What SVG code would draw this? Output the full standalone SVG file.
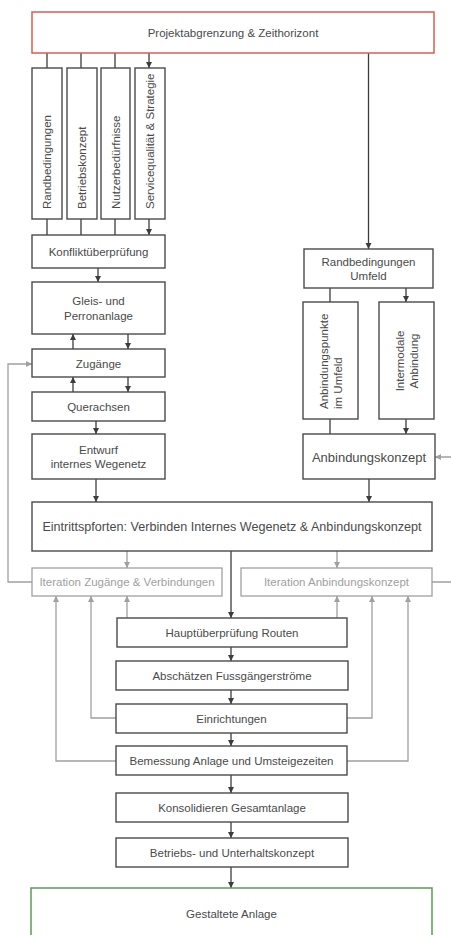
<svg xmlns="http://www.w3.org/2000/svg" width="451" height="935" viewBox="0 0 451 935">
<style>
.b{fill:#fff;stroke:#4a4a4a;stroke-width:1.4}
.g{fill:#fff;stroke:#a0a0a0;stroke-width:1.3}
.t{font-family:"Liberation Sans",Arial,sans-serif;font-size:11.5px;fill:#4a4a4a;text-anchor:middle;dominant-baseline:central}
.tg{fill:#a0a0a0}
.c{fill:none;stroke:#3c3c3c;stroke-width:1.3;marker-end:url(#ad)}
.cg{fill:none;stroke:#a0a0a0;stroke-width:1.3;marker-end:url(#ag)}
.cgn{fill:none;stroke:#a0a0a0;stroke-width:1.3}
</style>
<defs>
<marker id="ad" markerUnits="userSpaceOnUse" markerWidth="7" markerHeight="7" refX="6" refY="3" orient="auto"><path d="M0,0 L6,3 L0,6 z" fill="#3c3c3c"/></marker>
<marker id="ag" markerUnits="userSpaceOnUse" markerWidth="7" markerHeight="7" refX="6" refY="3" orient="auto"><path d="M0,0 L6,3 L0,6 z" fill="#a0a0a0"/></marker>
</defs>
<rect width="451" height="935" fill="#fff"/>

<g id="connectors">
<path class="c" d="M47 53V68M81 53V68M115 53V68M149 53V68"/>
<path class="c" d="M368.5 53V249"/>
<path class="c" d="M47 219V235M81 219V235M115 219V235M149 219V235"/>
<path class="c" d="M98 268V282"/>
<path class="c" d="M128 334V349"/>
<path class="c" d="M73 349V334"/>
<path class="c" d="M128 377V392"/>
<path class="c" d="M73 392V377"/>
<path class="c" d="M96 421V434"/>
<path class="c" d="M96 479V502"/>
<path class="c" d="M330 288V302M406 288V302"/>
<path class="c" d="M330 419V434M406 419V434"/>
<path class="c" d="M369 479V502"/>
<path class="c" d="M231 551V618"/>
<path class="c" d="M231 647V661"/>
<path class="c" d="M231 690V704"/>
<path class="c" d="M231 733V746"/>
<path class="c" d="M231 775V793"/>
<path class="c" d="M231 822V838"/>
<path class="c" d="M231 867V888"/>
<path class="cg" d="M127 551V568"/>
<path class="cg" d="M337 551V568"/>
<path class="cg" d="M127 618V596"/>
<path class="cg" d="M337 618V596"/>
<path class="cg" d="M116 718H91V596"/>
<path class="cg" d="M347 718H372V596"/>
<path class="cg" d="M116 761H56V596"/>
<path class="cg" d="M347 761H408V596"/>
<path class="cg" d="M32 582H8V364H32"/>
<path class="cg" d="M432 582H456V457H435"/>
</g>

<g id="n-projekt"><rect x="32" y="12" width="402" height="41" fill="#fff" stroke="#d6604e" stroke-width="1.5"/><text class="t" x="233" y="33">Projektabgrenzung &amp; Zeithorizont</text></g>

<g id="n-rand"><rect class="b" x="32" y="68" width="30" height="151"/><text class="t" style="text-anchor:start" transform="translate(47,209) rotate(-90)">Randbedingungen</text></g>
<g id="n-betrieb"><rect class="b" x="67" y="68" width="30" height="151"/><text class="t" style="text-anchor:start" transform="translate(82,209) rotate(-90)">Betriebskonzept</text></g>
<g id="n-nutzer"><rect class="b" x="101" y="68" width="29" height="151"/><text class="t" style="text-anchor:start" transform="translate(115.5,209) rotate(-90)">Nutzerbedürfnisse</text></g>
<g id="n-service"><rect class="b" x="135" y="68" width="30" height="151"/><text class="t" style="text-anchor:start" transform="translate(150,209) rotate(-90)">Servicequalität &amp; Strategie</text></g>

<g id="n-konflikt"><rect class="b" x="32" y="235" width="133" height="33"/><text class="t" x="98.5" y="252">Konfliktüberprüfung</text></g>
<g id="n-gleis"><rect class="b" x="32" y="282" width="133" height="52"/><text class="t" x="98.5" y="301">Gleis- und</text><text class="t" x="98.5" y="316">Perronanlage</text></g>
<g id="n-zugaenge"><rect class="b" x="32" y="349" width="133" height="28"/><text class="t" x="98.5" y="364">Zugänge</text></g>
<g id="n-querachsen"><rect class="b" x="32" y="392" width="133" height="29"/><text class="t" x="98.5" y="406.5">Querachsen</text></g>
<g id="n-entwurf"><rect class="b" x="32" y="434" width="133" height="45"/><text class="t" x="98.5" y="450">Entwurf</text><text class="t" x="98.5" y="464">internes Wegenetz</text></g>

<g id="n-randumfeld"><rect class="b" x="304" y="249" width="129" height="39"/><text class="t" x="368.5" y="262">Randbedingungen</text><text class="t" x="368.5" y="276">Umfeld</text></g>
<g id="n-anbpunkte"><rect class="b" x="303" y="302" width="55" height="117"/><text class="t" style="text-anchor:start" transform="translate(323.5,409) rotate(-90)">Anbindungspunkte</text><text class="t" style="text-anchor:start" transform="translate(337.5,409) rotate(-90)">im Umfeld</text></g>
<g id="n-intermodal"><rect class="b" x="379" y="302" width="55" height="117"/><text class="t" transform="translate(399.5,361) rotate(-90)">Intermodale</text><text class="t" transform="translate(413.5,361) rotate(-90)">Anbindung</text></g>
<g id="n-anbkonzept"><rect class="b" x="303" y="434" width="132" height="45"/><text class="t" x="369" y="457" style="font-size:13px">Anbindungskonzept</text></g>

<g id="n-eintritt"><rect class="b" x="32" y="502" width="400" height="49"/><text class="t" x="232" y="527" style="font-size:12.6px">Eintrittspforten: Verbinden Internes Wegenetz &amp; Anbindungskonzept</text></g>

<g id="n-iterz"><rect class="g" x="32" y="568" width="190" height="28"/><text class="t tg" x="127" y="582">Iteration Zugänge &amp; Verbindungen</text></g>
<g id="n-itera"><rect class="g" x="241" y="568" width="191" height="28"/><text class="t tg" x="336.5" y="582">Iteration Anbindungskonzept</text></g>

<g id="n-haupt"><rect class="b" x="117" y="618" width="230" height="29"/><text class="t" x="232" y="632.5">Hauptüberprüfung Routen</text></g>
<g id="n-abschaetzen"><rect class="b" x="116" y="661" width="232" height="29"/><text class="t" x="232" y="675.5">Abschätzen Fussgängerströme</text></g>
<g id="n-einrichtungen"><rect class="b" x="116" y="704" width="231" height="29"/><text class="t" x="231.5" y="718.5">Einrichtungen</text></g>
<g id="n-bemessung"><rect class="b" x="116" y="746" width="231" height="29"/><text class="t" x="231.5" y="760.5">Bemessung Anlage und Umsteigezeiten</text></g>
<g id="n-konsolidieren"><rect class="b" x="116" y="793" width="232" height="29"/><text class="t" x="232" y="807.5">Konsolidieren Gesamtanlage</text></g>
<g id="n-betriebunterhalt"><rect class="b" x="116" y="838" width="232" height="29"/><text class="t" x="232" y="852.5">Betriebs- und Unterhaltskonzept</text></g>
<g id="n-gestaltet"><rect x="31" y="888" width="401" height="52" fill="#fff" stroke="#5e9a52" stroke-width="1.5"/><text class="t" x="231.5" y="914">Gestaltete Anlage</text></g>
</svg>
